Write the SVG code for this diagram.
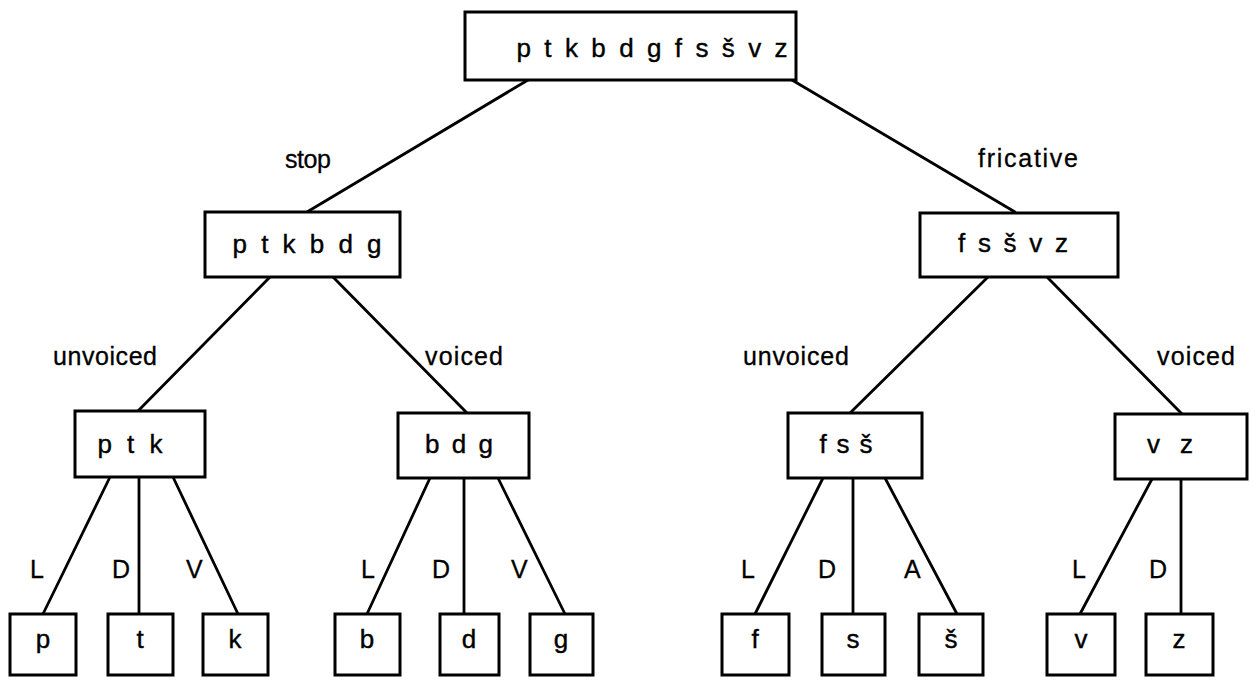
<svg xmlns="http://www.w3.org/2000/svg" width="1250" height="685" viewBox="0 0 1250 685">
<style>
  .box { fill: #fff; stroke: #000; stroke-width: 3; }
  .t { font-family: "Liberation Sans", Arial, sans-serif; font-size: 26px; fill: #000; stroke: #000; stroke-width: 0.4; text-anchor: middle; }
  .lbl { font-family: "Liberation Sans", Arial, sans-serif; font-size: 25px; fill: #000; stroke: #000; stroke-width: 0.3; }
  #connectors line { stroke: #000; stroke-width: 2.8; stroke-linecap: round; }
</style>
<rect width="1250" height="685" fill="#fff"/>
<g id="connectors">
  <line x1="528" y1="80" x2="307" y2="212"/>
  <line x1="792" y1="80" x2="1015" y2="212"/>
  <line x1="270" y1="277" x2="138" y2="411"/>
  <line x1="333" y1="277" x2="467" y2="413"/>
  <line x1="988" y1="277" x2="850" y2="413"/>
  <line x1="1047" y1="277" x2="1182" y2="414"/>
  <line x1="110" y1="477" x2="43" y2="614"/>
  <line x1="139" y1="477" x2="139" y2="614"/>
  <line x1="173" y1="477" x2="238" y2="614"/>
  <line x1="430" y1="478" x2="367" y2="614"/>
  <line x1="464" y1="478" x2="464" y2="614"/>
  <line x1="498" y1="478" x2="565" y2="614"/>
  <line x1="823" y1="478" x2="755" y2="614"/>
  <line x1="853" y1="478" x2="853" y2="614"/>
  <line x1="885" y1="478" x2="957" y2="614"/>
  <line x1="1152" y1="479" x2="1080" y2="614"/>
  <line x1="1181" y1="479" x2="1181" y2="614"/>
</g>
<g id="labels">
  <text class="lbl" x="285" y="168" textLength="46" lengthAdjust="spacing">stop</text>
  <text class="lbl" x="978" y="167" textLength="100" lengthAdjust="spacing">fricative</text>
  <text class="lbl" x="53" y="365" textLength="104" lengthAdjust="spacing">unvoiced</text>
  <text class="lbl" x="425" y="365" textLength="78" lengthAdjust="spacing">voiced</text>
  <text class="lbl" x="743" y="365" textLength="106" lengthAdjust="spacing">unvoiced</text>
  <text class="lbl" x="1157" y="365" textLength="78" lengthAdjust="spacing">voiced</text>
  <text class="lbl" x="30" y="578">L</text>
  <text class="lbl" x="112" y="578">D</text>
  <text class="lbl" x="186" y="578">V</text>
  <text class="lbl" x="361" y="578">L</text>
  <text class="lbl" x="432" y="578">D</text>
  <text class="lbl" x="511" y="578">V</text>
  <text class="lbl" x="741" y="578">L</text>
  <text class="lbl" x="818" y="578">D</text>
  <text class="lbl" x="904" y="578">A</text>
  <text class="lbl" x="1072" y="578">L</text>
  <text class="lbl" x="1149" y="578">D</text>
</g>
<g id="n-root"><rect class="box" x="465" y="12" width="331" height="68"/><text class="t" x="652" y="57" textLength="271" lengthAdjust="spacing">p t k b d g f s š v z</text></g>
<g id="n-stop"><rect class="box" x="205" y="212" width="195" height="65"/><text class="t" x="307" y="253" textLength="149" lengthAdjust="spacing">p t k b d g</text></g>
<g id="n-fric"><rect class="box" x="920" y="213" width="198" height="64"/><text class="t" x="1013" y="252" textLength="110" lengthAdjust="spacing">f s š v z</text></g>
<g id="n-ptk"><rect class="box" x="75" y="411" width="130" height="66"/><text class="t" x="130" y="453" textLength="65" lengthAdjust="spacing">p t k</text></g>
<g id="n-bdg"><rect class="box" x="398" y="413" width="131" height="65"/><text class="t" x="459" y="453" textLength="68" lengthAdjust="spacing">b d g</text></g>
<g id="n-fss"><rect class="box" x="788" y="413" width="134" height="65"/><text class="t" x="846" y="453" textLength="53" lengthAdjust="spacing">f s š</text></g>
<g id="n-vz"><rect class="box" x="1115" y="414" width="132" height="65"/><text class="t" x="1170" y="453" textLength="46" lengthAdjust="spacing">v z</text></g>
<g id="n-p"><rect class="box" x="10" y="614" width="66" height="61"/><text class="t" x="43" y="648">p</text></g>
<g id="n-t"><rect class="box" x="108" y="614" width="65" height="61"/><text class="t" x="140" y="648">t</text></g>
<g id="n-k"><rect class="box" x="203" y="614" width="65" height="61"/><text class="t" x="235" y="648">k</text></g>
<g id="n-b"><rect class="box" x="335" y="614" width="65" height="61"/><text class="t" x="367" y="648">b</text></g>
<g id="n-d"><rect class="box" x="440" y="614" width="59" height="61"/><text class="t" x="469" y="648">d</text></g>
<g id="n-g"><rect class="box" x="530" y="614" width="63" height="61"/><text class="t" x="561" y="648">g</text></g>
<g id="n-f"><rect class="box" x="722" y="614" width="67" height="61"/><text class="t" x="755" y="648">f</text></g>
<g id="n-s"><rect class="box" x="822" y="614" width="63" height="61"/><text class="t" x="853" y="648">s</text></g>
<g id="n-sh"><rect class="box" x="919" y="614" width="64" height="61"/><text class="t" x="951" y="648">š</text></g>
<g id="n-v"><rect class="box" x="1047" y="614" width="68" height="61"/><text class="t" x="1081" y="648">v</text></g>
<g id="n-z"><rect class="box" x="1146" y="614" width="67" height="61"/><text class="t" x="1179" y="648">z</text></g>
</svg>
